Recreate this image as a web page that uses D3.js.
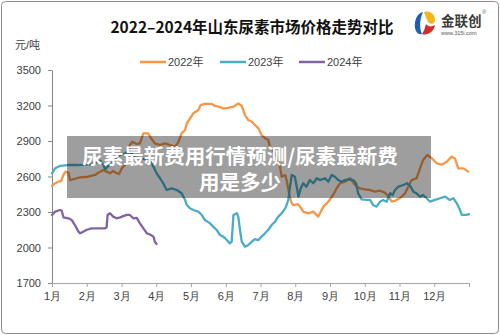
<!DOCTYPE html>
<html lang="zh">
<head>
  <meta charset="UTF-8">
  <title>2022-2024年山东尿素市场价格走势对比</title>
  <script src="https://d3js.org/d3.v7.min.js"></script>
  <style>
    body { margin: 0; background: #fff; }
    svg { display: block; font-family: "Liberation Sans", "Noto Sans CJK SC", sans-serif; }
  </style>
</head>
<body>
  <svg width="500" height="335"></svg>

  <script>
    const width = 500;
    const height = 335;
    const margin = { top: 70, right: 31, bottom: 52, left: 52 };

    // month labels on the x axis, ticks for the y axis
    const monthLabels = ["1月", "2月", "3月", "4月", "5月", "6月", "7月", "8月", "9月", "10月", "11月", "12月"];
    const yTicks = [1700, 2000, 2300, 2600, 2900, 3200, 3500];
    const seriesNames = ["2022年", "2023年", "2024年"];
    const seriesColors = ["#F79646", "#4BACC6", "#8064A2"];

    // position in months since 1 Jan, and price (元/吨)
    const t2022 = [0.00, 0.09, 0.18, 0.26, 0.33, 0.39, 0.47, 0.52, 0.66, 0.81, 1.04, 1.24, 1.33, 1.48, 1.57, 1.67, 1.76, 1.84, 1.93, 2.01, 2.10, 2.18, 2.24, 2.31, 2.44, 2.53, 2.63, 2.77, 2.85, 2.96, 3.11, 3.25, 3.40, 3.54, 3.63, 3.73, 3.83, 3.88, 4.07, 4.21, 4.28, 4.40, 4.60, 4.69, 4.79, 4.93, 5.06, 5.22, 5.36, 5.46, 5.55, 5.65, 5.75, 5.84, 5.94, 6.03, 6.13, 6.22, 6.27, 6.37, 6.47, 6.56, 6.61, 6.71, 6.75, 6.82, 6.88, 6.94, 7.08, 7.14, 7.23, 7.38, 7.52, 7.66, 7.71, 7.81, 7.95, 8.09, 8.19, 8.29, 8.43, 8.58, 8.67, 8.77, 8.86, 9.01, 9.15, 9.29, 9.44, 9.58, 9.68, 9.78, 9.87, 10.01, 10.16, 10.25, 10.35, 10.49, 10.59, 10.68, 10.80, 10.93, 11.07, 11.21, 11.36, 11.50, 11.60, 11.69, 11.84, 11.98];
    const p2022 = [2520, 2543, 2556, 2560, 2613, 2641, 2632, 2570, 2581, 2593, 2598, 2613, 2632, 2655, 2641, 2627, 2648, 2630, 2621, 2669, 2697, 2740, 2866, 2894, 2875, 2880, 2965, 2965, 2923, 2880, 2866, 2880, 2866, 2852, 2886, 2965, 2993, 3050, 3134, 3162, 3204, 3213, 3213, 3196, 3190, 3176, 3180, 3190, 3218, 3196, 3120, 3077, 3063, 3035, 3007, 2951, 2923, 2910, 2852, 2810, 2768, 2683, 2598, 2612, 2570, 2460, 2387, 2359, 2366, 2345, 2303, 2289, 2303, 2261, 2289, 2345, 2387, 2444, 2500, 2543, 2556, 2585, 2548, 2514, 2500, 2492, 2486, 2472, 2480, 2464, 2430, 2387, 2395, 2416, 2458, 2514, 2570, 2585, 2669, 2740, 2782, 2754, 2712, 2700, 2725, 2768, 2750, 2669, 2669, 2641];

    const t2023 = [0.00, 0.09, 0.23, 0.47, 0.76, 1.04, 1.24, 1.38, 1.48, 1.53, 1.62, 1.72, 1.81, 1.96, 2.10, 2.20, 2.29, 2.39, 2.53, 2.68, 2.82, 2.92, 3.01, 3.11, 3.20, 3.30, 3.44, 3.59, 3.73, 3.83, 3.88, 3.97, 4.07, 4.21, 4.31, 4.40, 4.55, 4.64, 4.74, 4.83, 4.93, 5.03, 5.12, 5.17, 5.20, 5.22, 5.32, 5.36, 5.41, 5.46, 5.55, 5.65, 5.75, 5.84, 5.94, 6.03, 6.13, 6.22, 6.32, 6.42, 6.51, 6.61, 6.71, 6.75, 6.80, 6.85, 6.90, 6.99, 7.06, 7.09, 7.16, 7.23, 7.32, 7.42, 7.52, 7.62, 7.71, 7.86, 7.95, 8.05, 8.14, 8.24, 8.33, 8.43, 8.53, 8.67, 8.75, 8.81, 8.91, 9.06, 9.15, 9.24, 9.34, 9.44, 9.53, 9.63, 9.73, 9.80, 9.87, 9.97, 10.11, 10.22, 10.32, 10.40, 10.49, 10.59, 10.68, 10.78, 10.88, 11.02, 11.17, 11.31, 11.45, 11.55, 11.65, 11.74, 11.79, 11.93, 12.00];
    const p2023 = [2627, 2669, 2689, 2697, 2697, 2703, 2712, 2734, 2697, 2661, 2689, 2712, 2740, 2782, 2796, 2810, 2796, 2762, 2754, 2748, 2740, 2683, 2627, 2585, 2543, 2486, 2500, 2486, 2458, 2402, 2359, 2331, 2317, 2303, 2275, 2232, 2204, 2176, 2148, 2106, 2092, 2063, 2035, 2049, 2176, 2275, 2289, 2261, 2148, 2049, 2007, 2021, 2049, 2070, 2063, 2092, 2120, 2148, 2190, 2218, 2261, 2289, 2331, 2359, 2402, 2514, 2613, 2598, 2486, 2430, 2500, 2543, 2514, 2570, 2543, 2585, 2570, 2585, 2556, 2613, 2598, 2570, 2556, 2570, 2576, 2570, 2543, 2458, 2407, 2402, 2402, 2359, 2345, 2387, 2402, 2387, 2458, 2444, 2486, 2514, 2528, 2543, 2514, 2472, 2458, 2430, 2444, 2416, 2387, 2402, 2416, 2430, 2402, 2416, 2373, 2317, 2275, 2275, 2282];

    const t2024 = [0.00, 0.09, 0.23, 0.28, 0.33, 0.47, 0.57, 0.66, 0.76, 0.81, 0.90, 1.00, 1.14, 1.33, 1.53, 1.57, 1.60, 1.67, 1.76, 1.86, 1.96, 2.05, 2.15, 2.24, 2.34, 2.44, 2.53, 2.63, 2.73, 2.82, 2.92, 2.96, 3.01];
    const p2024 = [2275, 2303, 2317, 2310, 2255, 2247, 2232, 2190, 2134, 2120, 2134, 2150, 2162, 2162, 2162, 2170, 2275, 2289, 2261, 2247, 2255, 2265, 2275, 2275, 2247, 2250, 2204, 2162, 2120, 2110, 2092, 2049, 2030];

    const seriesT = [t2022, t2023, t2024];
    const seriesP = [p2022, p2023, p2024];

    const svg = d3.select("svg");

    // outer frame
    svg.append("rect")
      .attr("x", 1.5).attr("y", 1.5)
      .attr("width", width - 3).attr("height", height - 3)
      .attr("rx", 4)
      .attr("fill", "#fff")
      .attr("stroke", "#8c8c8c");

    const xScale = d3.scaleLinear()
      .domain([0, 12])
      .range([margin.left, width - margin.right]);

    const yScale = d3.scaleLinear()
      .domain([1700, 3500])
      .range([height - margin.bottom, margin.top]);

    // title
    svg.append("text")
      .attr("x", 252).attr("y", 33)
      .attr("text-anchor", "middle")
      .attr("font-family", "'Noto Sans CJK SC', sans-serif")
      .attr("font-size", 15.5)
      .attr("font-weight", "bold")
      .attr("fill", "#111")
      .text("2022–2024年山东尿素市场价格走势对比");

    svg.append("text")
      .attr("x", 15).attr("y", 49)
      .attr("font-size", 11)
      .attr("fill", "#404040")
      .text("元/吨");

    // legend
    const legendX = [140, 220, 299];
    seriesNames.forEach((name, i) => {
      const g = svg.append("g").attr("transform", `translate(${legendX[i]},62)`);
      g.append("line")
        .attr("x1", 0).attr("x2", 26)
        .attr("stroke", seriesColors[i])
        .attr("stroke-width", 2.5);
      g.append("text")
        .attr("x", 28).attr("y", 4)
        .attr("font-size", 11)
        .attr("fill", "#404040")
        .text(name);
    });

    // axes
    const yAxis = svg.append("g")
      .attr("transform", `translate(${margin.left},0)`)
      .call(d3.axisLeft(yScale).tickValues(yTicks).tickFormat(d3.format("d"))
        .tickSize(4).tickSizeOuter(0).tickPadding(7));
    yAxis.select(".domain").attr("stroke", "#868686");
    yAxis.selectAll(".tick line").attr("stroke", "#868686");
    yAxis.selectAll("text").attr("font-size", 11).attr("fill", "#404040")
      .attr("font-family", "'Liberation Sans', sans-serif");

    const xAxis = svg.append("g")
      .attr("transform", `translate(0,${height - margin.bottom})`)
      .call(d3.axisBottom(xScale)
        .tickValues(d3.range(0, 13))
        .tickFormat(d => monthLabels[d] || "")
        .tickSize(4).tickSizeOuter(0).tickPadding(5));
    xAxis.select(".domain").attr("stroke", "#a6a6a6");
    xAxis.selectAll(".tick line").attr("stroke", "#a6a6a6");
    xAxis.selectAll("text").attr("font-size", 11).attr("fill", "#404040");

    // series
    seriesP.forEach((vals, s) => {
      const t = seriesT[s];
      const line = d3.line()
        .x((d, i) => xScale(t[i]))
        .y(d => yScale(d));
      svg.append("path")
        .datum(vals)
        .attr("d", line)
        .attr("fill", "none")
        .attr("stroke", seriesColors[s])
        .attr("stroke-width", 2.3)
        .attr("stroke-linejoin", "round")
        .attr("stroke-linecap", "round");
    });

    // logo
    const logo = svg.append("g").attr("transform", "translate(425,23)");
    logo.append("path")
      .attr("d", "M-2,-11 C-8,-10 -11,-2 -10,5 C-9,10 -6,12 -3,11 C-6,5 -5,-5 -2,-11 Z")
      .attr("fill", "#1f5fb0");
    logo.append("path")
      .attr("d", "M-1,-11 C5,-13 10,-9 10,-3 C10,1 6,2 3,-1 C2,-4 0,-7 -1,-11 Z")
      .attr("fill", "#f2b619");
    logo.append("path")
      .attr("d", "M-3,11 C2,13 9,9 10,2 C7,4 3,4 1,1 C0,5 -1,8 -3,11 Z")
      .attr("fill", "#d42a2a");
    logo.append("text")
      .attr("x", 16).attr("y", 3)
      .attr("font-family", "'Noto Sans CJK SC', sans-serif")
      .attr("font-size", 13.5)
      .attr("font-weight", "bold")
      .attr("fill", "#3a3a3a")
      .text("金联创");
    logo.append("text")
      .attr("x", 57).attr("y", -9)
      .attr("font-size", 6)
      .attr("fill", "#666")
      .text("®");
    logo.append("text")
      .attr("x", 16).attr("y", 12)
      .attr("font-size", 5.5)
      .attr("fill", "#555")
      .text("www.315i.com");

    // overlay banner
    svg.append("rect")
      .attr("x", 67).attr("y", 136)
      .attr("width", 364).attr("height", 62)
      .attr("fill", "rgba(0,0,0,0.38)");

    const bannerLines = ["尿素最新费用行情预测/尿素最新费", "用是多少"];
    const banner = svg.append("text")
      .attr("text-anchor", "middle")
      .attr("font-family", "'Noto Sans CJK SC', sans-serif")
      .attr("font-size", 20.5)
      .attr("font-weight", "bold")
      .attr("fill", "#fff");
    bannerLines.forEach((txt, i) => {
      banner.append("tspan")
        .attr("x", 240).attr("y", 164 + i * 26)
        .text(txt);
    });
  </script>
</body>
</html>
